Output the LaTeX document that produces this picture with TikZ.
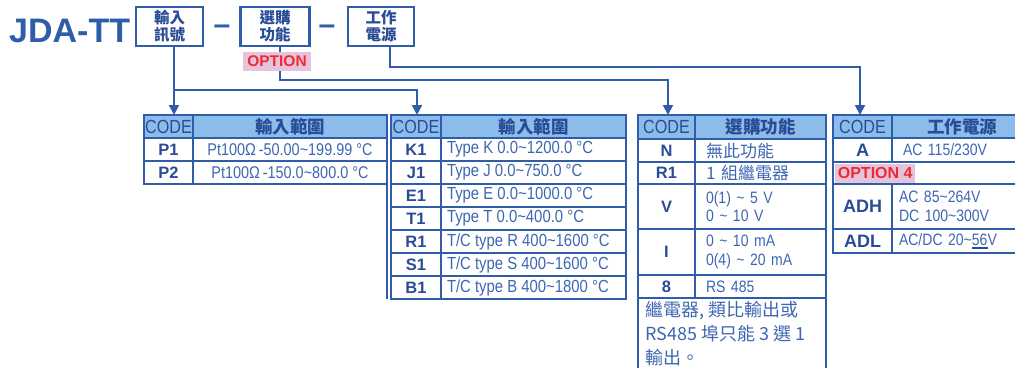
\documentclass[tikz,border=0pt]{standalone}
\usepackage{fontspec}
\setmainfont{Liberation Sans}
\newfontfamily\narrowf{Liberation Sans}[FakeStretch=0.85]
\newfontfamily\cjk{Noto Sans CJK TC}
\usetikzlibrary{arrows.meta}
\definecolor{bblue}{HTML}{2F5DAA}
\definecolor{hfill}{HTML}{8CBCE9}
\definecolor{tdark}{HTML}{2A4C96}
\definecolor{tlight}{HTML}{3D66B2}
\definecolor{opink}{HTML}{E6C3DC}
\definecolor{ored}{HTML}{EE2B33}
\newcommand\ulfs[1]{\setbox0\hbox{#1}\rlap{\raisebox{-3.5pt}{\color{tdark}\rule{\wd0}{1.6pt}}}\box0}
\newcommand\lft[1]{\makebox[173pt][l]{#1}}

\begin{document}
\begin{tikzpicture}[x=1pt,y=-1pt,
  cell/.style={draw=bblue,line width=2pt,inner sep=0pt,outer sep=0pt,anchor=north west},
  sz/.style 2 args={minimum width=#1pt,minimum height=#2pt},
  hcode/.style={cell,fill=hfill,text=tdark,font=\narrowf\fontsize{19}{19}\selectfont},
  hname/.style={cell,fill=hfill,text=tdark,font=\cjk\bfseries\fontsize{17.5}{18}\selectfont},
  code/.style={cell,text=tdark,font=\bfseries\fontsize{16.5}{17}\selectfont},
  desc/.style={cell,text=tlight,font=\narrowf\fontsize{17}{19}\selectfont},
  ldesc/.style 2 args={desc,align=left,text width=#1pt,inner xsep=#2pt},
  tbox/.style={draw=bblue,line width=2.2pt,text=tdark,align=center,inner sep=0pt,
    font=\cjk\bfseries\fontsize{15.5}{17}\selectfont},
  opt/.style={fill=opink,text=ored,inner sep=0pt,font=\bfseries\fontsize{15.5}{16}\selectfont},
  conn/.style={draw=bblue,line width=2pt},
  arr/.style={conn,-{Triangle[width=10pt,length=10pt]}}]
  \useasboundingbox (0,0) rectangle (1015,367);
  \clip (0,0) rectangle (1015,367);

  % model code
  \node[anchor=base west,inner sep=0pt,text=bblue,font=\bfseries\fontsize{34}{34}\selectfont] (title) at (9,42) {JDA-TT};
  \node[tbox,sz={67}{39}] (inbox) at (169.5,26.5) {輸入\\訊號};
  \node[anchor=base,inner sep=0pt,text=bblue,font=\bfseries\fontsize{30}{30}\selectfont] (dash1) at (222,34.5) {–};
  \node[tbox,sz={69}{39}] (selbox) at (275,26.5) {選購\\功能};
  \node[anchor=base,inner sep=0pt,text=bblue,font=\bfseries\fontsize{30}{30}\selectfont] (dash2) at (327,34.5) {–};
  \node[tbox,sz={66}{39}] (pwrbox) at (381,26.5) {工作\\電源};
  \node[opt,sz={68}{19}] (optn) at (277,61.5) {OPTION};

  % table 1
  \node[hcode,sz={49}{23}] (t1hc) at (144,115) {CODE};
  \node[hname,sz={194}{23}] (t1hn) at (193,115) {輸入範圍};
  \node[code,sz={49}{23}] (t1c1) at (144,138) {P1};
  \node[desc,sz={194}{23}] (t1d1) at (193,138) {Pt100Ω\,-50.00\textasciitilde199.99 °C};
  \node[code,sz={49}{23}] (t1c2) at (144,161) {P2};
  \node[desc,sz={194}{23}] (t1d2) at (193,161) {Pt100Ω\,-150.0\textasciitilde800.0 °C};

  % table 2
  \tikzset{d2/.style={desc,sz={185}{23},font=\narrowf\fontsize{17.5}{19}\selectfont}}
  \node[hcode,sz={50}{23}] (t2hc) at (391,115) {CODE};
  \node[hname,sz={185}{23}] (t2hn) at (441,115) {輸入範圍};
  \node[code,sz={50}{23}] (t2c1) at (391,138) {K1};
  \node[d2] (t2d1) at (441,138) {\lft{Type K 0.0\textasciitilde1200.0 °C}};
  \node[code,sz={50}{23}] (t2c2) at (391,161) {J1};
  \node[d2] (t2d2) at (441,161) {\lft{Type J 0.0\textasciitilde750.0 °C}};
  \node[code,sz={50}{23}] (t2c3) at (391,184) {E1};
  \node[d2] (t2d3) at (441,184) {\lft{Type E 0.0\textasciitilde1000.0 °C}};
  \node[code,sz={50}{23}] (t2c4) at (391,207) {T1};
  \node[d2] (t2d4) at (441,207) {\lft{Type T 0.0\textasciitilde400.0 °C}};
  \node[code,sz={50}{23}] (t2c5) at (391,230) {R1};
  \node[d2] (t2d5) at (441,230) {\lft{T/C type R 400\textasciitilde1600 °C}};
  \node[code,sz={50}{23}] (t2c6) at (391,253) {S1};
  \node[d2] (t2d6) at (441,253) {\lft{T/C type S 400\textasciitilde1600 °C}};
  \node[code,sz={50}{23}] (t2c7) at (391,276) {B1};
  \node[d2] (t2d7) at (441,276) {\lft{T/C type B 400\textasciitilde1800 °C}};
  \draw[conn] ([xshift=-4pt]t2hc.north west) -- ([xshift=-4pt]t2c7.south west);

  % table 3
  \node[hcode,sz={57}{24}] (t3hc) at (638,115) {CODE};
  \node[hname,sz={131}{24}] (t3hn) at (695,115) {選購功能};
  \node[code,sz={57}{23}] (t3c1) at (638,139) {N};
  \node[ldesc={109}{11},minimum height=23pt,font=\cjk\fontsize{17}{19}\selectfont] (t3d1) at (695,139) {無此功能};
  \node[code,sz={57}{22}] (t3c2) at (638,162) {R1};
  \node[ldesc={109}{11},minimum height=22pt,font=\cjk\fontsize{17}{19}\selectfont] (t3d2) at (695,162) {1 組繼電器};
  \node[code,sz={57}{45}] (t3c3) at (638,184) {V};
  \node[ldesc={109}{11},minimum height=45pt,font=\narrowf\fontsize{16.5}{18.5}\selectfont] (t3d3) at (695,184) {0(1) \textasciitilde{} 5 V\\0 \textasciitilde{} 10 V};
  \node[code,sz={57}{46}] (t3c4) at (638,229) {I};
  \node[ldesc={109}{11},minimum height=46pt,font=\narrowf\fontsize{16.5}{18.5}\selectfont] (t3d4) at (695,229) {0 \textasciitilde{} 10 mA\\0(4) \textasciitilde{} 20 mA};
  \node[code,sz={57}{23}] (t3c5) at (638,275) {8};
  \node[ldesc={109}{11},minimum height=23pt,font=\narrowf\fontsize{16.5}{18.5}\selectfont] (t3d5) at (695,275) {RS 485};
  \node[cell,sz={188}{90}] (t3note) at (638,298) {};
  \node[anchor=base west,inner sep=0pt,text=tlight,font=\cjk\fontsize{18}{19}\selectfont] (note1) at (645,316) {繼電器, 類比輸出或};
  \node[anchor=base west,inner sep=0pt,text=tlight,font=\cjk\fontsize{18}{19}\selectfont] (note2) at (645,340) {RS485 埠只能 3 選 1};
  \node[anchor=base west,inner sep=0pt,text=tlight,font=\cjk\fontsize{18}{19}\selectfont] (note3) at (645,364) {輸出。};

  % table 4
  \node[hcode,sz={59}{23}] (t4hc) at (833,115) {CODE};
  \node[hname,sz={140}{23}] (t4hn) at (892,115) {工作電源};
  \node[code,sz={59}{24},font=\bfseries\fontsize{18}{18}\selectfont] (t4c1) at (833,138) {A};
  \node[ldesc={126}{7},minimum height=24pt,font=\narrowf\fontsize{16.5}{18.5}\selectfont] (t4d1) at (892,138) {\hspace{4pt}AC 115/230V};
  \node[cell,sz={199}{22}] (t4opt) at (833,162) {};
  \node[opt,sz={80}{19},anchor=west,font=\bfseries\fontsize{16}{16}\selectfont] (opt4) at (835,173) {OPTION 4};
  \node[code,sz={59}{45},font=\bfseries\fontsize{18}{18}\selectfont] (t4c2) at (833,184) {ADH};
  \node[ldesc={126}{7},minimum height=45pt,font=\narrowf\fontsize{16.5}{18.5}\selectfont] (t4d2) at (892,184) {AC 85\textasciitilde264V\\DC 100\textasciitilde300V};
  \node[code,sz={59}{24},font=\bfseries\fontsize{18}{18}\selectfont] (t4c3) at (833,229) {ADL};
  \node[ldesc={126}{7},minimum height=24pt,font=\narrowf\fontsize{16.5}{18.5}\selectfont] (t4d3) at (892,229) {AC/DC 20\textasciitilde\ulfs{56}V};

  % connectors
  \coordinate (j1) at (174,90);
  \coordinate (j2) at (280,80);
  \coordinate (j3) at (390,67);
  \draw[arr] (inbox.south -| j1) -- (j1 |- t1hc.north);
  \draw[arr] (j1) -| ([xshift=1pt]t2hc.north);
  \draw[conn] (selbox.south -| j2) -- (optn.north -| j2);
  \draw[arr] (optn.south -| j2) -- (j2) -| ([xshift=1.5pt]t3hc.north);
  \draw[arr] (pwrbox.south -| j3) -- (j3) -| ([xshift=-2.5pt]t4hc.north);
\end{tikzpicture}
\end{document}
